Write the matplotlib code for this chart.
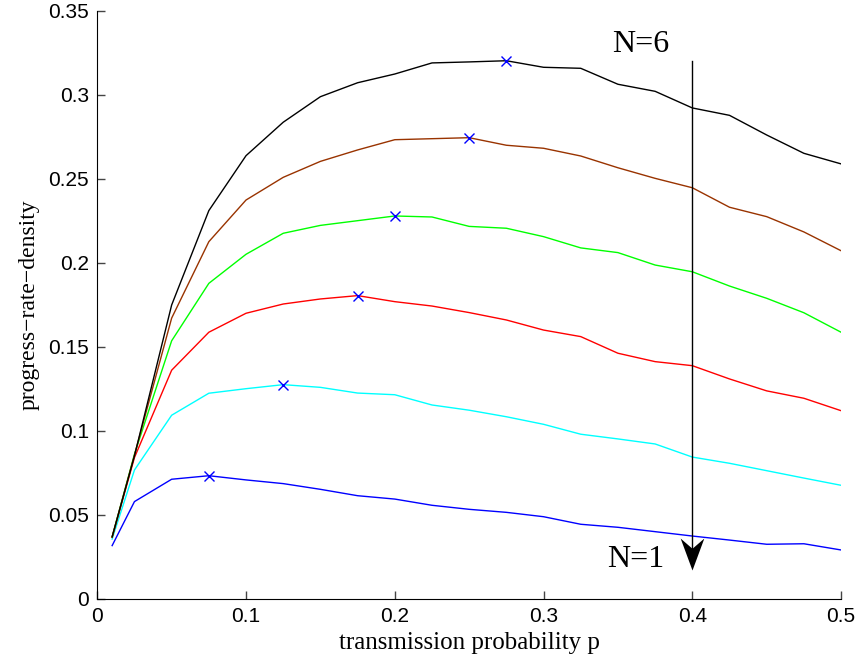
#!/usr/bin/env python3
import numpy
import matplotlib
matplotlib.use('Agg')
import matplotlib.pyplot as plt
from matplotlib.path import Path

# transmission probability grid
p=[0.01,0.025,0.05,0.075,0.1,0.125,0.15,0.175,0.2,0.225,0.25,
   0.275,0.3,0.325,0.35,0.375,0.4,0.425,0.45,0.475,0.5]

# progress-rate-density for N=1..6
prd_N1=[0.0316,0.0578,0.0711,0.0732,0.0707,0.0685,0.0651,0.0613,0.0593,0.0556,0.0532,
        0.0514,0.0488,0.0443,0.0425,0.0399,0.0373,0.0349,0.0324,0.0327,0.0290]
prd_N2=[0.0355,0.0766,0.1092,0.1223,0.1250,0.1274,0.1258,0.1224,0.1214,0.1153,0.1122,
        0.1083,0.1038,0.0979,0.0951,0.0921,0.0843,0.0806,0.0762,0.0718,0.0675]
prd_N3=[0.0365,0.0840,0.1360,0.1586,0.1699,0.1754,0.1784,0.1804,0.1768,0.1742,0.1703,
        0.1659,0.1599,0.1560,0.1461,0.1411,0.1387,0.1308,0.1237,0.1193,0.1119]
prd_N4=[0.0368,0.0860,0.1535,0.1877,0.2050,0.2175,0.2222,0.2250,0.2278,0.2272,0.2216,
        0.2205,0.2155,0.2088,0.2060,0.1986,0.1946,0.1861,0.1788,0.1702,0.1586]
prd_N5=[0.0368,0.0855,0.1670,0.2125,0.2373,0.2508,0.2603,0.2671,0.2732,0.2738,0.2744,
        0.2699,0.2681,0.2635,0.2565,0.2502,0.2446,0.2330,0.2274,0.2183,0.2071]
prd_N6=[0.0368,0.0850,0.1748,0.2310,0.2637,0.2836,0.2988,0.3071,0.3123,0.3189,0.3195,
        0.3202,0.3163,0.3157,0.3062,0.3020,0.2921,0.2877,0.2760,0.2651,0.2588]

curves=[prd_N1,prd_N2,prd_N3,prd_N4,prd_N5,prd_N6]
colors=[(0,0,1),(0,1,1),(1,0,0),(0,1,0),(0.6,0.2,0),(0,0,0)]

xticks=[0,0.1,0.2,0.3,0.4,0.5]
xticklabels=['0','0.1','0.2','0.3','0.4','0.5']
yticks=[0,0.05,0.1,0.15,0.2,0.25,0.3,0.35]
yticklabels=['0','0.05','0.1','0.15','0.2','0.25','0.3','0.35']

serif=['Liberation Serif','DejaVu Serif']
sans=['Liberation Sans','DejaVu Sans']

fig=plt.figure(figsize=(8.6,6.67),dpi=100)
ax=fig.add_axes([0.1131,0.1024,0.978-0.1131,0.984-0.1024])

for prd,col in zip(curves,colors):
    ax.plot(p,prd,color=col,lw=1.0)
for prd in curves:
    i=int(numpy.argmax(prd))
    ax.plot(p[i],prd[i],'x',color='b',ms=7,mew=1.0)

# arrow showing increasing N: shaft + barbed head with tip at the end point
arr_x=0.4
arr_top=0.3203
arr_tip=0.0171
head=Path([(0,0),(-0.37,1),(0,0.68),(0.37,1),(0,0)],
          [Path.MOVETO,Path.LINETO,Path.LINETO,Path.LINETO,Path.CLOSEPOLY])
ax.plot([arr_x,arr_x],[arr_top,arr_tip+0.008],color='k',lw=1.0)
ax.plot(arr_x,arr_tip,marker=head,ms=46,color='k',mew=0)
ax.text(0.3654,0.3254,'N=6',fontsize=23,family=serif,ha='center',va='baseline')
ax.text(0.3814,0.0189,'N=1',fontsize=23,family=serif,ha='right',va='baseline')

ax.set_xlim(0,0.5)
ax.set_ylim(0,0.35)
ax.set_xticks(xticks)
ax.set_xticklabels(xticklabels,fontsize=15,family=sans)
ax.set_yticks(yticks)
ax.set_yticklabels(yticklabels,fontsize=15,family=sans)
ax.tick_params(direction='in',length=6,width=1,color='#444444',pad=6)
ax.spines['top'].set_visible(False)
ax.spines['right'].set_visible(False)
ax.set_xlabel('transmission probability p',fontsize=18,family=serif,labelpad=4)
ax.set_ylabel('progress\u2212rate\u2212density',fontsize=17,family=serif,labelpad=6)

plt.savefig('out.png',dpi=100)
